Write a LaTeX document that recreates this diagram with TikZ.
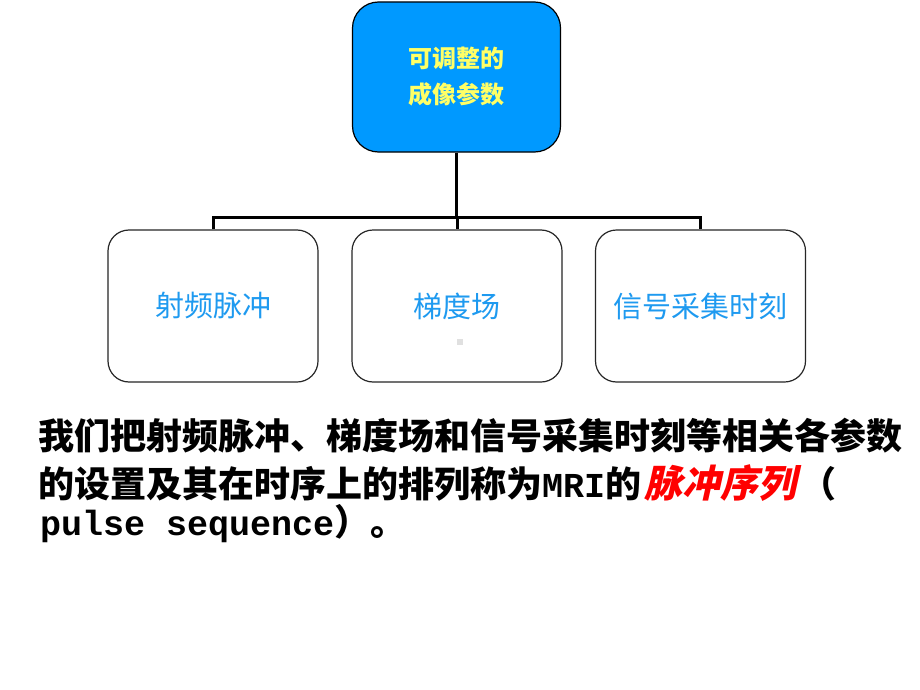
\documentclass[tikz,border=0pt]{standalone}
\usepackage{fontspec}
\newfontfamily\cjk{Noto Sans CJK SC}
\newfontfamily\cjkslant{Noto Sans CJK SC}[FakeSlant=0.22]
\newfontfamily\mono{Liberation Mono}
\definecolor{topfill}{HTML}{0099FF}
\definecolor{toptext}{HTML}{FFFF66}
\definecolor{boxtext}{HTML}{1E9AF0}
\definecolor{dotgray}{HTML}{E0E0E0}
\begin{document}
\begin{tikzpicture}[x=1pt,y=-1pt,
  topbox/.style={draw=black, line width=1.2pt, fill=topfill, rounded corners=26pt,
    minimum width=208pt, minimum height=150pt, inner sep=0pt, align=center,
    text=toptext, font=\cjk\bfseries\fontsize{24}{36}\selectfont},
  leafbox/.style={draw=black!85, line width=1.2pt, fill=white, rounded corners=21pt,
    minimum width=210pt, minimum height=152pt, inner sep=0pt},
  leaftext/.style={text=boxtext, font=\cjk\fontsize{29}{34}\selectfont},
  bus/.style={line width=3pt, black},
  para/.style={anchor=base west, inner sep=0pt, font=\cjk\bfseries\fontsize{36}{36}\selectfont}]
\useasboundingbox (0,0) rectangle (920,690);
\fill[white] (0,0) rectangle (920,690);

\node[topbox] (top) at (456.5,77) {可调整的\\成像参数};
\node[leafbox] (b1) at (213,306) {};
\node[leafbox] (b2) at (457,306) {};
\node[leafbox] (b3) at (700.5,306) {};
\node[leaftext] (t1) at (213,306) {射频脉冲};
\node[leaftext] (t2) at (457,306) {梯度场};
\node[leaftext] (t3) at (700.5,306) {信号采集时刻};
\node[fill=dotgray, minimum size=6pt, inner sep=0pt] (dot) at (460,342) {};

\coordinate (busy) at (456,217);
\draw[bus] (top.south) -- (top.south |- busy);
\draw[bus] (b1.north) -- (b1.north |- busy) -- (b3.north |- busy) -- (b3.north);
\draw[bus] (b2.north |- busy) -- (b2.north);

\node[para] (l1) at (38,449) {我们把射频脉冲、梯度场和信号采集时刻等相关各参数};
\node[para] (l2) at (38,497) {的设置及其在时序上的排列称为{\mono\bfseries\fontsize{35}{35}\selectfont MRI}的\hspace{3pt}{\color{red}\cjkslant\bfseries\fontsize{38}{38}\selectfont 脉冲序列}\hspace{4pt}（};
\node[para] (l3) at (40,535) {{\mono\bfseries\fontsize{35}{35}\selectfont pulse sequence}）。};
\end{tikzpicture}
\end{document}
